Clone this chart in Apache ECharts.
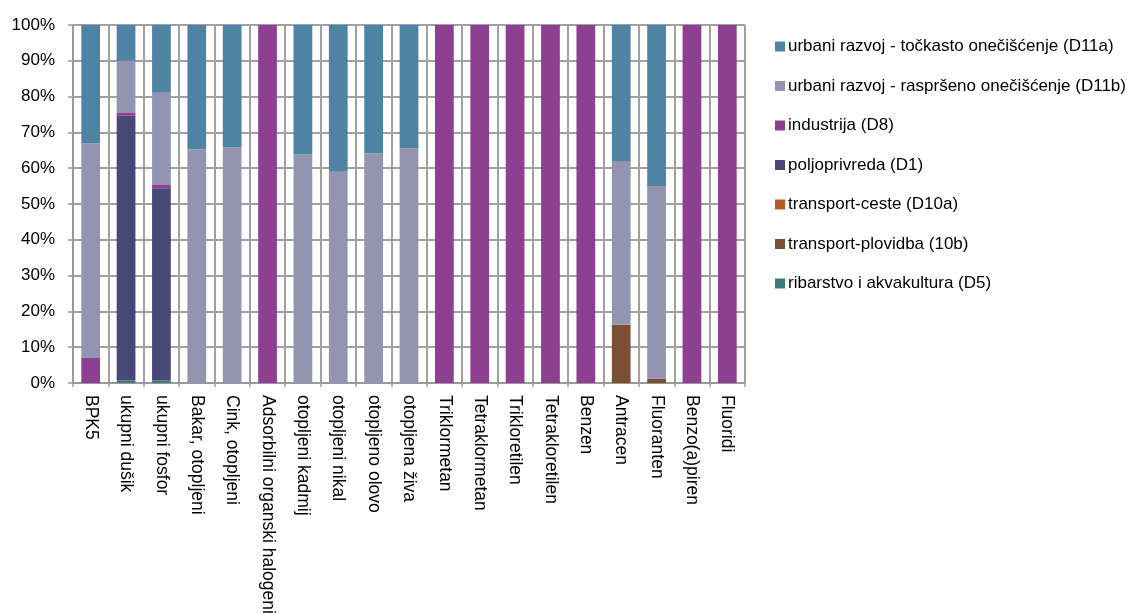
<!DOCTYPE html>
<html>
<head>
<meta charset="utf-8">
<script src="https://cdn.jsdelivr.net/npm/echarts@6/dist/echarts.min.js"></script>
<style>
html,body{margin:0;padding:0;background:#fff;}
#c{width:1140px;height:614px;}
</style>
</head>
<body>
<div id="c"></div>
<script>
const categories = ["BPK5","ukupni dušik","ukupni fosfor","Bakar, otopljeni","Cink, otopljeni","Adsorbilni organski halogeni","otopljeni kadmij","otopljeni nikal","otopljeno olovo","otopljena živa","Triklormetan","Tetraklormetan","Trikloretilen","Tetrakloretilen","Benzen","Antracen","Fluoranten","Benzo(a)piren","Fluoridi"];
const seriesNames = ["ribarstvo i akvakultura (D5)","transport-plovidba (10b)","transport-ceste (D10a)","poljoprivreda (D1)","industrija (D8)","urbani razvoj - raspršeno onečišćenje (D11b)","urbani razvoj - točkasto onečišćenje (D11a)"];
const d5   = [0,0.7,0.7,0,0,0,0,0,0,0,0,0,0,0,0,0,0,0,0];
const t10b = [0,0,0,0,0,0,0,0,0,0,0,0,0,0,0,16.3,1.2,0,0];
const d10a = [0,0,0,0,0,0,0,0,0,0,0,0,0,0,0,0,0,0,0];
const d1   = [0,74.0,53.7,0,0,0,0,0,0,0,0,0,0,0,0,0,0,0,0];
const d8   = [7,0.9,0.9,0,0,100,0,0,0,0,100,100,100,100,100,0,0,100,100];
const d11b = [60,14.4,25.8,65.3,65.8,0,63.8,59.0,64.2,65.6,0,0,0,0,0,45.5,53.8,0,0];
const d11a = [33,10.0,18.9,34.7,34.2,0,36.2,41.0,35.8,34.4,0,0,0,0,0,38.2,45.0,0,0];
const yTicks = [0,10,20,30,40,50,60,70,80,90,100];
const colors = ["#3e7b79","#7b4f33","#b65b27","#464877","#8e4090","#9594b0","#4f83a3"];
const values = [d5,t10b,d10a,d1,d8,d11b,d11a];

const chart = echarts.init(document.getElementById('c'), null, {renderer:'canvas'});
const font = 'Liberation Sans, Arial, sans-serif';
const series = values.map((v,i)=>({
  name: seriesNames[i], type:'bar', stack:'all', data:v,
  barCategoryGap:'47%',
  itemStyle:{color:colors[i]},
  emphasis:{disabled:true}
}));
chart.setOption({
  animation:false,
  color: colors,
  grid:{left:73, top:25, right:395, bottom:231, containLabel:false, outerBoundsMode:'none'},
  legend:{
    orient:'vertical', left:770, top:33, itemGap:22.5,
    itemWidth:10, itemHeight:10, icon:'rect',
    data: seriesNames.slice().reverse(),
    textStyle:{fontFamily:font, fontSize:17, color:'#000', padding:[0,0,0,-2]}
  },
  xAxis:{
    type:'category', data:categories,
    axisLine:{show:true, lineStyle:{color:'#999', width:2}},
    axisTick:{show:true, length:4, lineStyle:{color:'#999', width:1.5}},
    splitLine:{show:true, lineStyle:{color:'#a0a0a0', width:2}},
    axisLabel:{rotate:-90, interval:0, margin:12, fontFamily:font, fontSize:17.5, color:'#000'}
  },
  yAxis:{
    type:'value', min:0, max:100, interval:10,
    axisLine:{show:true, lineStyle:{color:'#999', width:2}},
    axisTick:{show:true, length:5, lineStyle:{color:'#999', width:1.5}},
    splitLine:{show:true, lineStyle:{color:'#a0a0a0', width:2}},
    axisLabel:{formatter: v => (yTicks.indexOf(v)>=0 ? v + '%' : ''), margin:18, fontFamily:font, fontSize:17, color:'#000'}
  },
  series: series
});
</script>
</body>
</html>
